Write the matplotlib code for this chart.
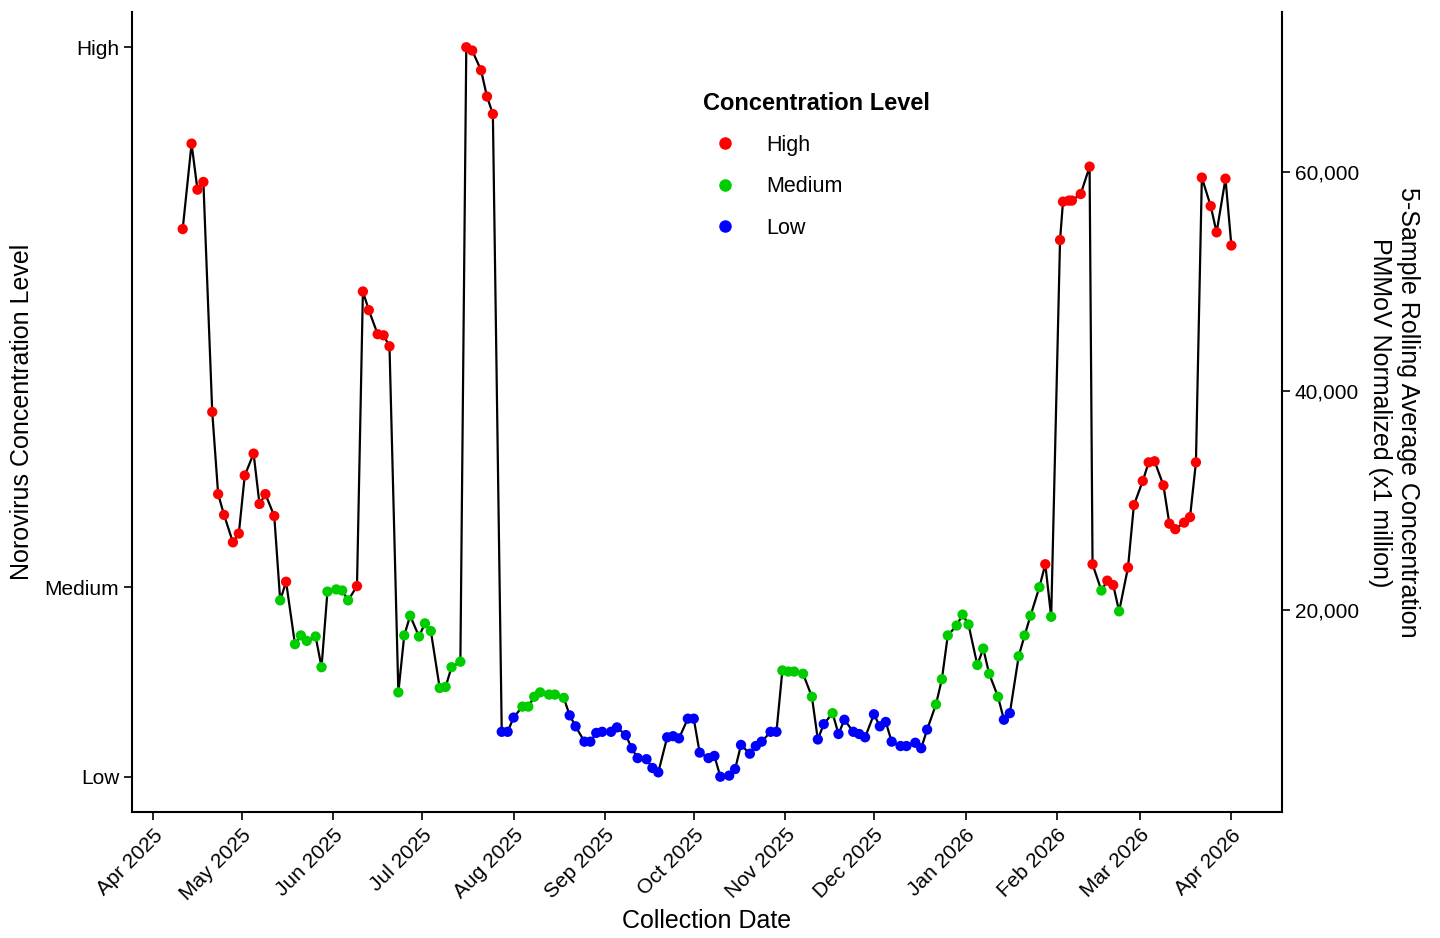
import datetime as dt
import matplotlib
import matplotlib.pyplot as plt
import matplotlib.dates as mdates
from matplotlib.lines import Line2D
from matplotlib.ticker import FuncFormatter

matplotlib.pyplot.switch_backend("Agg")
plt.rcParams["font.family"] = ["Liberation Sans", "DejaVu Sans"]

START = dt.date(2025, 4, 1)

# days since 2025-04-01
days = [10, 13, 15, 17, 20, 22, 24, 27, 29, 31, 34, 36, 38, 41, 43, 45, 48, 50, 52, 55,
        57, 59, 62, 64, 66, 69, 71, 73, 76, 78, 80, 83, 85, 87, 90, 92, 94, 97, 99, 101,
        104, 106, 108, 111, 113, 115, 118, 120, 122, 125, 127, 129, 131, 134, 136, 139,
        141, 143, 146, 148, 150, 152, 155, 157, 160, 162, 164, 167, 169, 171, 174, 176,
        178, 181, 183, 185, 188, 190, 192, 195, 197, 199, 202, 204, 206, 209, 211, 213,
        215, 217, 220, 223, 225, 227, 230, 232, 234, 237, 239, 241, 244, 246, 248, 250,
        253, 255, 258, 260, 262, 265, 267, 269, 272, 274, 276, 279, 281, 283, 286, 288,
        290, 293, 295, 297, 300, 302, 304, 307, 308, 310, 311, 314, 317, 318, 321, 323,
        325, 327, 330, 332, 335, 337, 339, 342, 344, 346, 349, 351, 353, 355, 358, 360,
        363, 365]

# rolling average, thousands
values = [54.8, 62.6, 58.4, 59.1, 38.1, 30.6, 28.7, 26.2, 27.0, 32.3, 34.3, 29.7, 30.6,
          28.6, 20.9, 22.6, 16.9, 17.7, 17.2, 17.6, 14.8, 21.7, 21.9, 21.8, 20.9, 22.2,
          49.1, 47.4, 45.2, 45.1, 44.1, 12.5, 17.7, 19.5, 17.6, 18.8, 18.1, 12.9, 13.0,
          14.8, 15.3, 71.4, 71.1, 69.3, 66.9, 65.3, 8.9, 8.9, 10.2, 11.2, 11.2, 12.1,
          12.5, 12.3, 12.3, 12.0, 10.4, 9.4, 8.0, 8.0, 8.8, 8.9, 8.9, 9.3, 8.6, 7.4, 6.5,
          6.4, 5.6, 5.2, 8.4, 8.5, 8.3, 10.1, 10.1, 7.0, 6.5, 6.7, 4.8, 4.9, 5.5, 7.7,
          6.9, 7.6, 8.0, 8.9, 8.9, 14.5, 14.4, 14.4, 14.2, 12.1, 8.2, 9.6, 10.6, 8.7,
          10.0, 8.9, 8.7, 8.4, 10.5, 9.4, 9.8, 8.0, 7.6, 7.6, 7.9, 7.4, 9.1, 11.4, 13.7,
          17.7, 18.6, 19.6, 18.7, 15.0, 16.5, 14.2, 12.1, 10.0, 10.6, 15.8, 17.7, 19.5,
          22.1, 24.2, 19.4, 53.8, 57.3, 57.4, 57.4, 58.0, 60.5, 24.2, 21.8, 22.7, 22.3,
          19.9, 23.9, 29.6, 31.8, 33.5, 33.6, 31.4, 27.9, 27.4, 28.0, 28.5, 33.5, 59.5,
          56.9, 54.5, 59.4, 53.3]

levels = ("HHHHHHHHHHHHHH" "M" "H" "MMMMMMMMM" "HHHHHH" "MMMMMMMMMM" "HHHHH" "LLL"
          "MMMMMMM" "LLLLLLLLLLLLLLLLLLLLLLLLLLLLLLL" "MMMMM" "LL" "M" "LLLLLLLLLLLLLL"
          "MMMMMMMMMM" "LL" "MMMM" "H" "M" "HHHHHHH" "M" "HH" "M" "HHHHHHHHHHHHHHHH")

level_colors = {"H": "#ff0000", "M": "#00cc00", "L": "#0000ff"}
level_names = {"H": "High", "M": "Medium", "L": "Low"}
level_ticks = [4.8, 22.1, 71.4]
level_tick_labels = ["Low", "Medium", "High"]

dates = [START + dt.timedelta(days=d) for d in days]

fig = plt.figure(figsize=(14.4, 9.38), dpi=100)
ax = fig.add_axes([0.092, 0.134, 0.798, 0.853])
ax.plot(dates, values, color="black", lw=1.6, zorder=2)
ax.scatter(dates, values, c=[level_colors[l] for l in levels], s=55, zorder=3,
           linewidths=0)

ax.set_xlim(START - dt.timedelta(days=7), dt.date(2026, 4, 18))
ax.set_ylim(1.55, 74.6)
ax.set_yticks(level_ticks)
ax.set_yticklabels(level_tick_labels)
ax.xaxis.set_major_locator(mdates.MonthLocator())
ax.xaxis.set_major_formatter(mdates.DateFormatter("%b %Y"))
plt.setp(ax.get_xticklabels(), rotation=45, ha="right", rotation_mode="anchor")
ax.tick_params(labelsize=15, length=6, width=1.2)
ax.spines["top"].set_visible(False)
ax.spines["right"].set_visible(False)
for s in ("left", "bottom"):
    ax.spines[s].set_linewidth(1.5)
ax.set_xlabel("Collection Date", fontsize=18, labelpad=4)
ax.set_ylabel("Norovirus Concentration Level", fontsize=18, labelpad=8)

ax2 = ax.twinx()
ax2.set_ylim(ax.get_ylim())
ax2.set_yticks([20, 40, 60])
ax2.yaxis.set_major_formatter(FuncFormatter(lambda v, p: f"{int(v * 1000):,}"))
ax2.tick_params(labelsize=15, length=6, width=1.2)
ax2.spines["top"].set_visible(False)
ax2.spines["left"].set_visible(False)
ax2.spines["bottom"].set_visible(False)
ax2.spines["right"].set_linewidth(1.5)
ax2.set_ylabel("5-Sample Rolling Average Concentration\nPMMoV Normalized (x1 million)",
               fontsize=18, rotation=270, labelpad=44)

handles = [Line2D([], [], marker="o", ls="", color=level_colors[k], markersize=8,
                  label=level_names[k]) for k in "HML"]
leg = ax.legend(handles=handles, title="Concentration Level", frameon=False,
                loc="upper left", bbox_to_anchor=(0.48, 0.925), fontsize=15.5,
                title_fontsize=17, labelspacing=0.95, alignment="left",
                handletextpad=0.9)
leg.get_title().set_fontweight("bold")

fig.savefig("out.png", dpi=100)
